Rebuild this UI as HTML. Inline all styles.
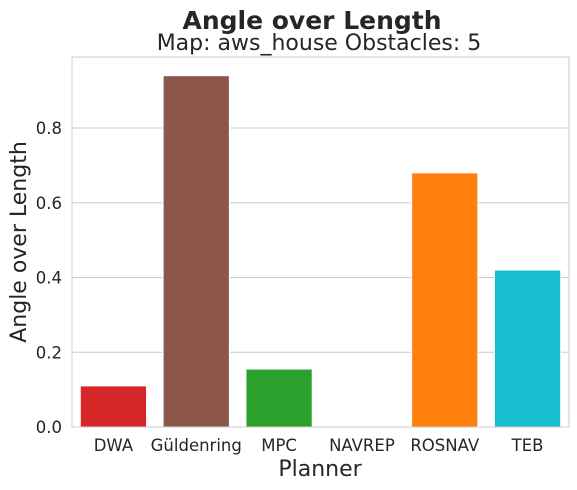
<!DOCTYPE html>
<html><head><meta charset="utf-8">
<style>
html,body{margin:0;padding:0;background:#fff;}
svg{display:block;font-family:"DejaVu Sans","Liberation Sans",sans-serif;}
</style></head>
<body>
<svg id="chart" width="577" height="490">
  <text x="312" y="29" text-anchor="middle" font-size="25" font-weight="bold" fill="#262626">Angle over Length</text>
  <text x="319" y="50" text-anchor="middle" font-size="22" fill="#262626">Map: aws_house Obstacles: 5</text>
  <g id="grid"></g>
  <g id="bars"></g>
  <rect x="72" y="57" width="497" height="370" fill="none" stroke="#cccccc" stroke-width="1"/>
  <g id="yticks"></g>
  <g id="xticks"></g>
  <text x="0" y="0" transform="translate(26,242) rotate(-90)" text-anchor="middle" font-size="22" fill="#262626">Angle over Length</text>
  <text x="320" y="476" text-anchor="middle" font-size="22" fill="#262626">Planner</text>
</svg>
<script>
const categories = ["DWA","Güldenring","MPC","NAVREP","ROSNAV","TEB"];
const values = [0.11, 0.94, 0.155, 0, 0.68, 0.42];
const colors = ["#d62728","#8c564b","#2ca02c","#e377c2","#ff7f0e","#17becf"];
const yTicks = [0.0, 0.2, 0.4, 0.6, 0.8];
const yTickLabels = ["0.0","0.2","0.4","0.6","0.8"];

(function(){
const NS = "http://www.w3.org/2000/svg";
const pLeft = 72, pRight = 569, pBottom = 427, pTop = 57, yMax = 0.99;
const yS = v => pBottom - (v / yMax) * (pBottom - pTop);
const band = (pRight - pLeft) / categories.length;
const xS = i => pLeft + band * i;
const barW = band * 0.8;

const grid = document.getElementById("grid");
const yt = document.getElementById("yticks");
yTicks.forEach((t, i) => {
  const l = document.createElementNS(NS, "line");
  l.setAttribute("x1", pLeft); l.setAttribute("x2", pRight);
  l.setAttribute("y1", yS(t)); l.setAttribute("y2", yS(t));
  l.setAttribute("stroke", "#cccccc");
  
  
  grid.appendChild(l);
  const tx = document.createElementNS(NS, "text");
  tx.setAttribute("x", pLeft - 10); tx.setAttribute("y", yS(t) + 6);
  tx.setAttribute("text-anchor", "end"); tx.setAttribute("font-size", "16.5");
  tx.setAttribute("fill", "#262626");
  tx.textContent = yTickLabels[i];
  
  
  yt.appendChild(tx);
});

const bars = document.getElementById("bars");
const xt = document.getElementById("xticks");
categories.forEach((c, i) => {
  const r = document.createElementNS(NS, "rect");
  const bx = xS(i) + (band - barW) / 2;
  r.setAttribute("x", bx); r.setAttribute("width", barW);
  r.setAttribute("y", yS(values[i])); r.setAttribute("height", pBottom - yS(values[i]));
  r.setAttribute("fill", colors[i]);
  r.setAttribute("stroke", "#ffffff");
  
  
  bars.appendChild(r);
  const tx = document.createElementNS(NS, "text");
  tx.setAttribute("x", xS(i) + band / 2); tx.setAttribute("y", pBottom + 24);
  tx.setAttribute("text-anchor", "middle"); tx.setAttribute("font-size", "16.5");
  tx.setAttribute("fill", "#262626");
  tx.textContent = c;
  
  
  xt.appendChild(tx);
});
})();
</script>
</body></html>
